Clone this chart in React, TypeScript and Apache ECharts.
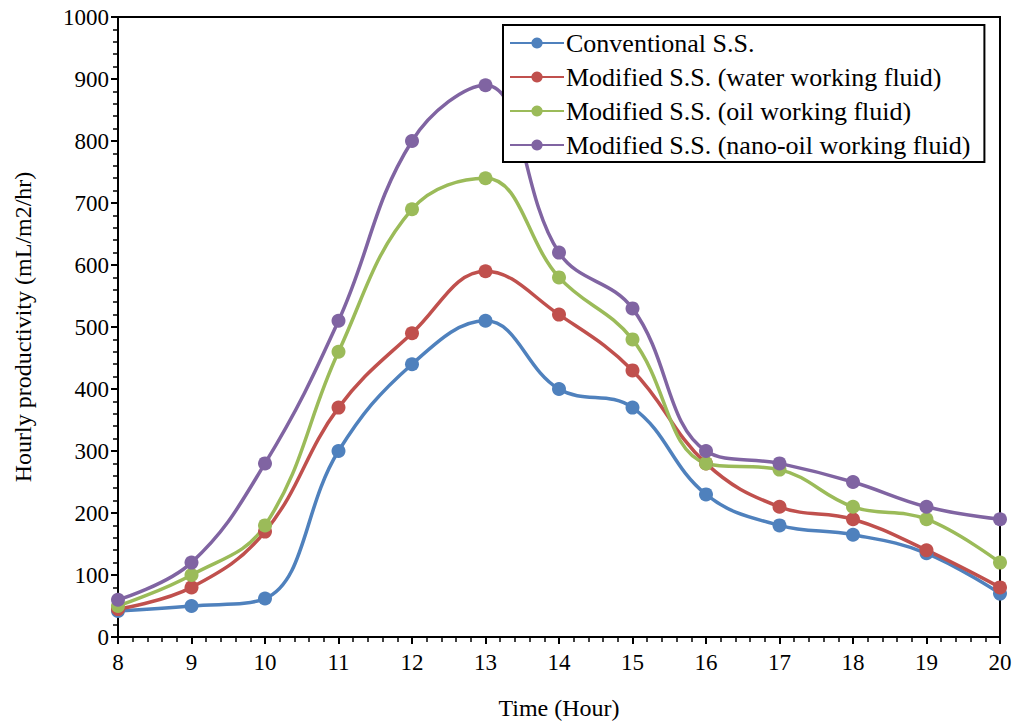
import React, { useEffect, useRef } from "react";
import * as echarts from "echarts";

const hours = [8, 9, 10, 11, 12, 13, 14, 15, 16, 17, 18, 19, 20];
const conventional = [42, 50, 62, 300, 440, 510, 400, 370, 230, 180, 165, 135, 70];
const water = [45, 80, 170, 370, 490, 590, 520, 430, 280, 210, 190, 140, 80];
const oil = [50, 100, 180, 460, 690, 740, 580, 480, 280, 270, 210, 190, 120];
const nanoOil = [60, 120, 280, 510, 800, 890, 620, 530, 300, 280, 250, 210, 190];

const seriesNames = [
  "Conventional S.S.",
  "Modified S.S. (water working fluid)",
  "Modified S.S. (oil working fluid)",
  "Modified S.S. (nano-oil working fluid)",
];
const seriesColors = ["#4F81BD", "#C0504D", "#9BBB59", "#8064A2"];
const seriesValues = [conventional, water, oil, nanoOil];

const FONT = "'Liberation Serif', 'Times New Roman', serif";

export default function App() {
  const ref = useRef<HTMLDivElement>(null);
  useEffect(() => {
    if (!ref.current) return;
    const chart = echarts.init(ref.current, undefined, { renderer: "svg" });
    chart.setOption({
      animation: false,
      backgroundColor: "#fff",
      textStyle: { fontFamily: FONT },
      grid: {
        left: 118,
        right: 16,
        top: 17,
        bottom: 89,
        show: true,
        borderColor: "#000",
        borderWidth: 2,
      },
      legend: {
        orient: "vertical",
        left: 503,
        top: 25,
        padding: [5, 14, 4, 6],
        itemGap: 8,
        itemWidth: 54,
        itemHeight: 14,
        borderColor: "#000",
        borderWidth: 2,
        backgroundColor: "#fff",
        textStyle: { fontFamily: FONT, fontSize: 26, lineHeight: 26, color: "#000", padding: [0, 0, 0, -3] },
        data: seriesNames,
      },
      xAxis: {
        type: "value",
        min: 8,
        max: 20,
        interval: 1,
        name: "Time (Hour)",
        nameLocation: "middle",
        nameGap: 59,
        nameTextStyle: { fontFamily: FONT, fontSize: 24, color: "#000" },
        axisLine: { show: true, lineStyle: { color: "#000", width: 2 } },
        axisTick: { show: true, length: 7, lineStyle: { color: "#000", width: 2 } },
        minorTick: { show: true, splitNumber: 5, length: 5, lineStyle: { color: "#000", width: 1.5 } },
        splitLine: { show: false },
        axisLabel: { fontFamily: FONT, fontSize: 23, color: "#000", margin: 14 },
      },
      yAxis: {
        type: "value",
        min: 0,
        max: 1000,
        interval: 100,
        name: "Hourly productivity (mL/m2/hr)",
        nameLocation: "middle",
        nameGap: 83,
        nameTextStyle: { fontFamily: FONT, fontSize: 24, color: "#000" },
        axisLine: { show: true, lineStyle: { color: "#000", width: 2 } },
        axisTick: { show: true, length: 7, lineStyle: { color: "#000", width: 2 } },
        minorTick: { show: true, splitNumber: 5, length: 5, lineStyle: { color: "#000", width: 1.5 } },
        splitLine: { show: false },
        axisLabel: {
          fontFamily: FONT,
          fontSize: 23,
          color: "#000",
          margin: 9,
          formatter: (v: number) => String(v),
        },
      },
      series: seriesNames.map((name, i) => ({
        name,
        type: "line",
        smooth: 0.4,
        symbol: "circle",
        symbolSize: 14,
        color: seriesColors[i],
        lineStyle: { width: 3.5, color: seriesColors[i] },
        itemStyle: { color: seriesColors[i] },
        data: hours.map((h, j) => [h, seriesValues[i][j]]),
      })),
    });
    return () => chart.dispose();
  }, []);
  return (
    <div
      ref={ref}
      style={{ position: "fixed", left: 0, top: 0, width: 1016, height: 726 }}
    />
  );
}
